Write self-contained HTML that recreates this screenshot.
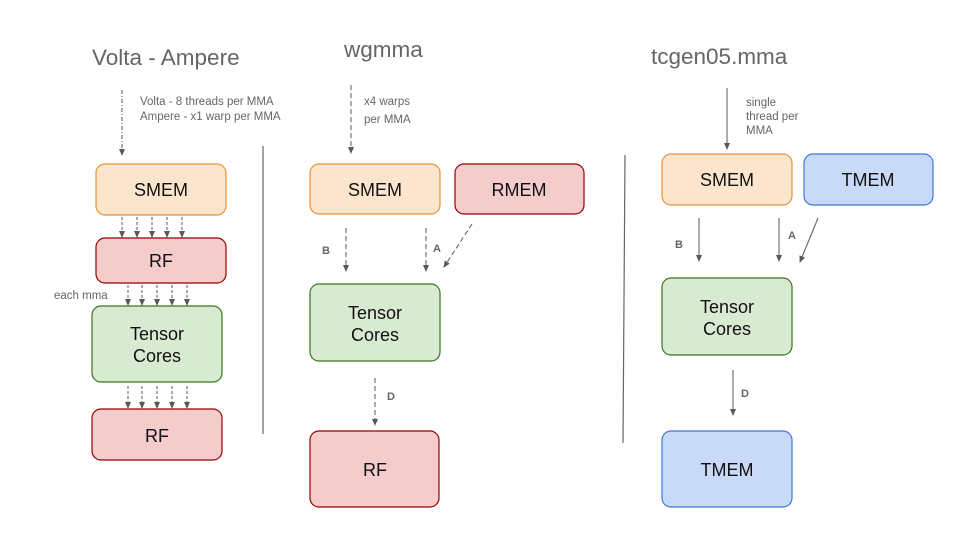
<!DOCTYPE html>
<html><head><meta charset="utf-8"><style>
html,body{margin:0;padding:0;background:#fff;width:960px;height:540px;overflow:hidden}
svg{display:block}
text{font-family:"Liberation Sans",Arial,sans-serif}
</style></head><body>
<svg width="960" height="540" viewBox="0 0 960 540" xmlns="http://www.w3.org/2000/svg">
<defs>
<marker id="ah" markerWidth="8" markerHeight="8" refX="6" refY="4" orient="auto" markerUnits="userSpaceOnUse">
<path d="M0,1 L7,4 L0,7 z" fill="#595959"/></marker>
</defs>
<g fill="#666" font-size="22.5">
<text x="92" y="65">Volta - Ampere</text>
<text x="344" y="57">wgmma</text>
<text x="651" y="64">tcgen05.mma</text>
</g>
<g fill="#666" font-size="11.5">
<text x="140" y="105">Volta - 8 threads per MMA</text>
<text x="140" y="120">Ampere - x1 warp per MMA</text>
<text x="54" y="299">each mma</text>
<text x="364" y="105">x4 warps</text>
<text x="364" y="123">per MMA</text>
<text x="746" y="106">single</text>
<text x="746" y="120">thread per</text>
<text x="746" y="134">MMA</text>
</g>
<g fill="#666" font-size="11" font-weight="bold">
<text x="322" y="254">B</text><text x="433" y="252">A</text><text x="387" y="400">D</text>
<text x="675" y="248">B</text><text x="788" y="239">A</text><text x="741" y="397">D</text>
</g>
<line x1="263" y1="146" x2="263" y2="434" stroke="#666" stroke-width="1.2"/>
<line x1="625" y1="155" x2="623" y2="443" stroke="#666" stroke-width="1.2"/>
<g stroke-width="1.2" font-size="18" text-anchor="middle">
<rect x="96" y="164" width="130" height="51" rx="9" fill="#fce5cd" stroke="#e69138"/>
<text x="161" y="196" fill="#111" stroke="none">SMEM</text>
<rect x="96" y="238" width="130" height="45" rx="9" fill="#f4cccc" stroke="#990000"/>
<text x="161" y="267" fill="#111" stroke="none">RF</text>
<rect x="92" y="306" width="130" height="76" rx="9" fill="#d9ead3" stroke="#38761d"/>
<text x="157" y="340" fill="#111" stroke="none">Tensor</text>
<text x="157" y="362" fill="#111" stroke="none">Cores</text>
<rect x="92" y="409" width="130" height="51" rx="9" fill="#f4cccc" stroke="#990000"/>
<text x="157" y="442" fill="#111" stroke="none">RF</text>

<rect x="310" y="164" width="130" height="50" rx="9" fill="#fce5cd" stroke="#e69138"/>
<text x="375" y="196" fill="#111" stroke="none">SMEM</text>
<rect x="455" y="164" width="129" height="50" rx="9" fill="#f4cccc" stroke="#990000"/>
<text x="519" y="196" fill="#111" stroke="none">RMEM</text>
<rect x="310" y="284" width="130" height="77" rx="9" fill="#d9ead3" stroke="#38761d"/>
<text x="375" y="319" fill="#111" stroke="none">Tensor</text>
<text x="375" y="341" fill="#111" stroke="none">Cores</text>
<rect x="310" y="431" width="129" height="76" rx="9" fill="#f4cccc" stroke="#990000"/>
<text x="375" y="476" fill="#111" stroke="none">RF</text>

<rect x="662" y="154" width="130" height="51" rx="9" fill="#fce5cd" stroke="#e69138"/>
<text x="727" y="186" fill="#111" stroke="none">SMEM</text>
<rect x="804" y="154" width="129" height="51" rx="9" fill="#c9daf8" stroke="#3c78d8"/>
<text x="868" y="186" fill="#111" stroke="none">TMEM</text>
<rect x="662" y="278" width="130" height="77" rx="9" fill="#d9ead3" stroke="#38761d"/>
<text x="727" y="313" fill="#111" stroke="none">Tensor</text>
<text x="727" y="335" fill="#111" stroke="none">Cores</text>
<rect x="662" y="431" width="130" height="76" rx="9" fill="#c9daf8" stroke="#3c78d8"/>
<text x="727" y="476" fill="#111" stroke="none">TMEM</text>
</g>
<g stroke="#595959" stroke-width="1" fill="none" marker-end="url(#ah)">
<line x1="122" y1="90" x2="122" y2="155" stroke-dasharray="4,2,1,2"/>
<g stroke-dasharray="3,2">
<line x1="122" y1="217" x2="122" y2="237"/><line x1="137" y1="217" x2="137" y2="237"/><line x1="152" y1="217" x2="152" y2="237"/><line x1="167" y1="217" x2="167" y2="237"/><line x1="182" y1="217" x2="182" y2="237"/>
<line x1="128" y1="285" x2="128" y2="305"/><line x1="142" y1="285" x2="142" y2="305"/><line x1="157" y1="285" x2="157" y2="305"/><line x1="172" y1="285" x2="172" y2="305"/><line x1="187" y1="285" x2="187" y2="305"/>
<line x1="128" y1="386" x2="128" y2="408"/><line x1="142" y1="386" x2="142" y2="408"/><line x1="157" y1="386" x2="157" y2="408"/><line x1="172" y1="386" x2="172" y2="408"/><line x1="187" y1="386" x2="187" y2="408"/>
</g>
<g stroke-dasharray="5,3">
<line x1="351" y1="85" x2="351" y2="153"/>
<line x1="346" y1="228" x2="346" y2="271"/>
<line x1="426" y1="228" x2="426" y2="271"/>
<line x1="472" y1="224" x2="444" y2="267"/>
<line x1="375" y1="378" x2="375" y2="425"/>
</g>
<line x1="727" y1="88" x2="727" y2="149"/>
<line x1="699" y1="218" x2="699" y2="261"/>
<line x1="779" y1="218" x2="779" y2="261"/>
<line x1="818" y1="218" x2="800" y2="262"/>
<line x1="733" y1="370" x2="733" y2="415"/>
</g>
</svg>
</body></html>
